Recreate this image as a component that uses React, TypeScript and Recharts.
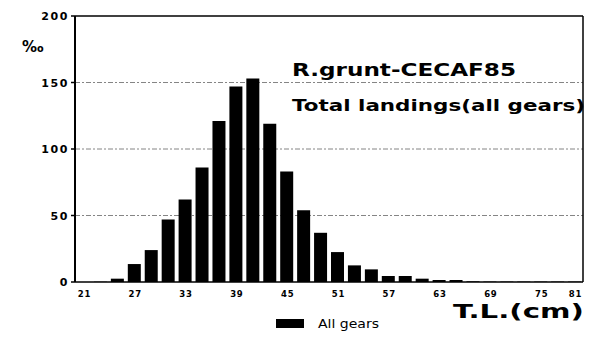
import { Bar, BarChart, CartesianGrid, XAxis, YAxis } from 'recharts';

// 2 cm length classes (lower bound, cm)
const LENGTH_CM = [
  21, 23, 25, 27, 29, 31, 33, 35, 37, 39, 41, 43, 45, 47, 49,
  51, 53, 55, 57, 59, 61, 63, 65, 67, 69, 71, 73, 75, 77, 79,
];

// per mille of total landings, all gears
const ALL_GEARS = [
  0, 0.2, 2.5, 13.5, 24, 47, 62, 86, 121, 147, 153, 119, 83, 54, 37,
  22.5, 12.5, 9.5, 4.5, 4.5, 2.5, 1.5, 1.5, 0.5, 0.3, 0.3, 0.3, 0.3, 0.3, 0.3,
];

const Y_TICKS = [0, 50, 100, 150, 200];
const X_TICKS = [21, 27, 33, 39, 45, 51, 57, 63, 69, 75, 79];
const X_TICK_LABELS = ['21', '27', '33', '39', '45', '51', '57', '63', '69', '75', '81'];

const TITLE = 'R.grunt-CECAF85';
const SUBTITLE = 'Total landings(all gears)';
const X_TITLE = 'T.L.(cm)';
const Y_TITLE = '‰';
const LEGEND_LABEL = 'All gears';

const data = LENGTH_CM.map((cm, i) => ({ cm, value: ALL_GEARS[i] }));

const FONT = "'DejaVu Sans', sans-serif";

function XTick({ x, y, payload }: any) {
  const idx = X_TICKS.indexOf(payload.value);
  return (
    <text
      x={x + 1}
      y={y + 7}
      textAnchor="middle"
      fontFamily={FONT}
      fontWeight="bold"
      fontSize={8.5}
      letterSpacing={0.8}
      fill="#000"
    >
      {idx >= 0 ? X_TICK_LABELS[idx] : payload.value}
    </text>
  );
}

function YTick({ x, y, payload }: any) {
  return (
    <text
      x={x}
      y={y + 4}
      textAnchor="end"
      fontFamily={FONT}
      fontWeight="bold"
      fontSize={11}
      letterSpacing={1.6}
      fill="#000"
    >
      {payload.value}
    </text>
  );
}

export default function App() {
  return (
    <div
      style={{
        position: 'absolute',
        left: 0,
        top: 0,
        width: 600,
        height: 347,
        background: '#fff',
      }}
    >
      <BarChart
        width={600}
        height={347}
        data={data}
        margin={{ top: 15, right: 16, left: 15, bottom: 45 }}
      >
        <CartesianGrid
          vertical={false}
          horizontalValues={[50, 100, 150]}
          stroke="#666"
          strokeWidth={0.8}
          strokeDasharray="5 2 2 2"
        />
        <XAxis
          dataKey="cm"
          ticks={X_TICKS}
          interval={0}
          tick={<XTick />}
          tickLine={false}
          height={20}
          axisLine={{ stroke: '#000', strokeWidth: 1.5 }}
        />
        <XAxis
          xAxisId="top"
          dataKey="cm"
          orientation="top"
          tick={false}
          tickLine={false}
          height={1}
          axisLine={{ stroke: '#000', strokeWidth: 1.5 }}
        />
        <YAxis
          domain={[0, 200]}
          ticks={Y_TICKS}
          tick={<YTick />}
          tickSize={4}
          width={60}
          tickLine={{ stroke: '#000', strokeWidth: 1.5 }}
          axisLine={{ stroke: '#000', strokeWidth: 2 }}
        />
        <YAxis
          yAxisId="right"
          orientation="right"
          domain={[0, 200]}
          tick={false}
          tickLine={false}
          width={1}
          axisLine={{ stroke: '#000', strokeWidth: 1.5 }}
        />
        <Bar dataKey="value" fill="#000" barSize={13} isAnimationActive={false} />
      </BarChart>

      <svg
        width={600}
        height={347}
        style={{ position: 'absolute', left: 0, top: 0, pointerEvents: 'none' }}
        fontFamily={FONT}
        fontWeight="bold"
      >
        <text x={22} y={52} fontSize={15} letterSpacing={-1}>
          {Y_TITLE}
        </text>
        <text transform="translate(292,76) scale(1.36,1)" fontSize={17}>
          {TITLE}
        </text>
        <text transform="translate(292,111) scale(1.3,1)" fontSize={16.5}>
          {SUBTITLE}
        </text>
        <text transform="translate(453,318) scale(1.5,1)" fontSize={19.5}>
          {X_TITLE}
        </text>
        <rect x={276} y={319} width={28} height={9} fill="#000" />
        <text
          transform="translate(318,328) scale(1.22,1)"
          fontSize={11.5}
          fontWeight="normal"
        >
          {LEGEND_LABEL}
        </text>
      </svg>
    </div>
  );
}
